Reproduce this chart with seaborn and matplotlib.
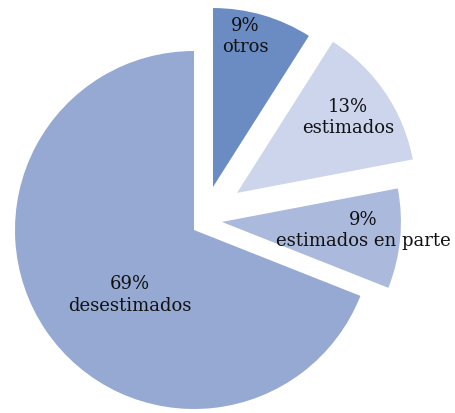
import numpy as np
import matplotlib
matplotlib.use("Agg")
import matplotlib.pyplot as plt
import seaborn as sns

categories = ["otros", "estimados", "estimados en parte", "desestimados"]
shares = [9, 13, 9, 69]
colors = ["#6b8cc3", "#ccd5eb", "#abbadc", "#95a9d3"]

# how far each slice is pulled out of the pie (x, y in radius units)
pull = [(0.106, 0.240), (0.240, 0.207), (0.156, 0.045), (0.0, 0.0)]

sns.set_style("white")
plt.rcParams['font.family'] = ['DejaVu Serif']

fig = plt.figure(figsize=(4.55, 4.13), dpi=100)
ax = fig.add_axes([0, 0, 1, 1])

wedges, _ = ax.pie(shares, colors=colors, startangle=90,
                   counterclock=False, radius=1.0,
                   wedgeprops=dict(linewidth=0))
for w, (dx, dy) in zip(wedges, pull):
    cx, cy = w.center
    w.set_center((cx + dx, cy + dy))

# label placement inside each wedge (radius fraction, angle nudge in degrees)
label_r = [0.86, 0.75, 0.79, 0.51]
label_da = [4, 0, 2, 11]
for w, name, val, r, da in zip(wedges, categories, shares, label_r, label_da):
    mid = np.deg2rad((w.theta1 + w.theta2) / 2 + da)
    cx, cy = w.center
    ax.text(cx + r * np.cos(mid), cy + r * np.sin(mid), f"{val}%\n{name}",
            ha='center', va='center', multialignment='center',
            fontsize=13, color='#111111', linespacing=1.25)

ax.set_xlim(-194 / 179, (455 - 194) / 179)
ax.set_ylim(-(413 - 230) / 179, 230 / 179)
ax.set_aspect('equal')
ax.axis('off')

fig.savefig("out.png", dpi=100)
